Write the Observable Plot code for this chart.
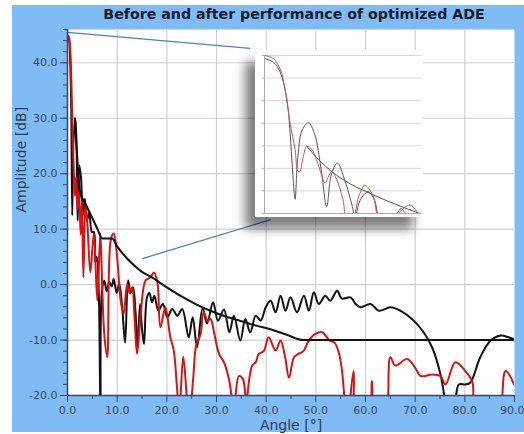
<!DOCTYPE html>
<html><head><meta charset="utf-8">
<script src="https://cdn.jsdelivr.net/npm/d3@7"></script>
<script src="https://cdn.jsdelivr.net/npm/@observablehq/plot@0.6"></script>
<style>
html,body{margin:0;padding:0;background:#fff;width:524px;height:434px;overflow:hidden;font-family:"DejaVu Sans",Verdana,sans-serif}
#bg{position:absolute;left:12px;top:5px;width:512px;height:427px;background:#7fbcf5}
#main{position:absolute;left:0;top:0}
#title{position:absolute;left:60px;width:468px;top:5px;text-align:center;font-weight:bold;font-size:14.2px;color:#1a1a2a;line-height:18px}
#inset{position:absolute;left:255px;top:50px;width:168px;height:167px;background:#fff;box-shadow:-10px 12px 10px rgba(0,0,0,0.5)}
#inset svg, #main svg{display:block}
</style></head>
<body>
<div id="bg"></div>
<div id="main"></div>
<div id="title">Before and after performance of optimized ADE</div>
<div id="inset"></div>
<script>
// ---- main chart data (angle in degrees, amplitude in dB) ----
const beforeAngle = [0,0.3,0.55,0.75,0.95,1.2,1.6,1.85,2.05,2.35,2.7,3.1,3.5,3.9,4.4,4.9,5.3,5.6,5.9,6.3,6.65,6.9,7.4,7.9,8.4,8.9,9.3,9.9,10.4,11.0,11.6,12.2,12.7,13.2,13.7,14.1,14.6,15.0,15.4,16.0,16.5,17.0,17.5,18.3,19.2,20.1,21.1,22.1,23.1,24.4,25.2,26.1,27.2,28.1,29.3,30.3,31.5,32.6,33.5,34.8,35.8,36.8,37.9,38.9,39.9,40.9,41.9,42.9,43.9,44.9,46.2,47.6,48.6,49.6,50.6,51.9,52.9,54.3,55.2,57.0,58.0,59.0,61.0,62.7,65.0,67.0,69.7,71.7,73.4,75.1,76.2,77.0,78.0,78.8,80.1,81.1,83.1,85.2,87.2,88.8,90.0];
const beforeDb = [44.8,44.2,40,32,12.5,26,29.8,24,11.5,21.5,19.5,12.5,15.5,11.5,13.0,9.5,9.5,4.0,5.0,-1.5,-25,-1.5,0.7,-1.2,0.5,-0.3,1.0,-1.5,0.2,-4,-10.5,0.8,-1.5,-0.5,-5,-11.5,-3.5,-8,-10.7,-2.3,-1.5,-3.2,-2.0,-4.7,-3.5,-5.9,-4.4,-5.6,-4.4,-9.5,-5.9,-11.3,-4.2,-7.0,-3.2,-6.5,-4.5,-8.6,-5.6,-10.1,-6.2,-8.6,-5.6,-6.5,-4.1,-2.9,-5.0,-2.0,-4.7,-2.3,-5.0,-2.0,-4.7,-1.4,-3.5,-2.0,-2.9,-1.1,-2.5,-2.3,-3.5,-4.1,-3.5,-4.7,-4.1,-4.7,-6.5,-8.6,-11.3,-16.2,-22,-26,-22,-18,-18,-17.7,-13.1,-10.1,-9.2,-9.5,-9.9];

const afterAngle = [0,0.3,0.6,0.85,1.05,1.25,1.5,1.75,2.0,2.3,2.65,2.9,3.2,3.6,4.0,4.6,5.3,6.0,6.6,7.0,7.4,8.0,8.7,9.3,10.0,10.7,11.3,12.0,12.5,13.0,13.5,14.0,14.7,15.7,16.7,17.4,18.1,18.7,19.7,20.7,21.4,22.0,22.5,23.3,24.0,24.5,25.3,25.9,26.8,27.4,28.2,28.8,29.5,30.5,31.5,32.5,33.5,34.5,35.3,36.0,36.6,37.2,37.9,38.5,39.5,40.5,41.9,42.9,43.8,44.6,45.6,46.5,47.5,48.6,49.9,51.3,52.2,52.9,53.8,54.6,55.2,55.7,56.3,57.6,58.3,60.5,61.3,62.0,63.8,65.0,66.0,68.4,70.0,71.1,73.4,75.1,76.1,78.1,80.1,81.5,82.3,86.4,88.2,89.9];
const afterDb = [45.0,44.6,41.5,34,27,21,16,19.5,13.5,17,9,15,1.3,14.6,11,2.2,9.2,-2.9,9.2,-0.5,-8.9,-13.1,8.0,9.2,4.9,-2.9,-5.3,0.1,-1.5,-0.5,-6,-12.5,-5.9,0.7,1.3,2.2,0.4,-7.7,-4.1,-9.5,-11.9,-18,-23,-13,-20,-25,-17,-11,-8.9,-5.0,-6.5,-6.2,-8.6,-12.5,-14,-17,-22,-16.5,-17,-21,-17,-14.6,-14,-12.5,-12,-9.5,-11.9,-10.1,-13,-16.8,-13.1,-12.5,-12,-10.1,-8.9,-8.6,-9.5,-10.1,-10.5,-12.2,-15,-19.7,-25,-15.6,-25,-25,-17.4,-25,-25,-13.1,-14.6,-13.4,-15,-16.5,-16.2,-16.5,-18,-14,-15.6,-17.5,-25,-25,-15.6,-18];

const maskAngle = [1.5,2.6,3.6,5.0,6.0,7.0,9.0,10.0,11.0,12.0,13.5,15.0,17.0,20.0,22.7,26.0,29.0,32.0,35.0,38.0,41.0,44.0,47.5,90.0];
const maskDb = [30,16.4,14.6,12.0,10.1,8.3,8.3,6.9,5.7,4.7,3.4,2.3,1.3,-0.5,-2.0,-3.6,-4.8,-5.8,-6.6,-7.4,-8.1,-9.0,-10.0,-10.0];

// zoom connector lines: [angle1, dB1, angle2, dB2]
const connectors = [[0, 45.5, 36.8, 42.6], [15.1, 4.7, 40.9, 11.7]];

const xMajor = [0,10,20,30,40,50,60,70,80,90];
const xMinor = [5,15,25,35,45,55,65,75,85];
const yMajor = [-20,-10,0,10,20,30,40];
const yMinor = d3.range(-20, 47, 2);

// ---- inset (zoomed view, relative units) ----
const insetAfterU = [0.04,0.57,1.0,1.31,1.63,1.95,2.12,2.25,2.45,2.69,3.0,3.4,3.86,4.05,4.28,4.6,5.0,5.25,5.6,6.0,6.4,6.9,7.3,7.6,8.3,8.6,9.26,9.7,10.0];
const insetAfterV = [7.0,6.86,6.4,5.5,4.0,2.83,1.9,1.85,2.45,2.98,2.85,2.2,1.34,1.6,1.86,1.5,0.6,-0.3,-0.3,0.75,1.24,0.8,-0.3,-0.3,-0.3,0.05,0.37,0.1,-0.3];
const insetBeforeU = [0.04,0.57,1.0,1.42,1.63,1.8,1.95,2.1,2.4,2.8,3.2,3.6,3.96,4.25,4.64,5.1,5.6,5.76,6.1,6.6,7.0,7.4,8.2,8.45,8.7,9.0,10.0];
const insetBeforeV = [6.86,6.7,6.26,5.07,3.58,1.79,0.63,2.3,3.7,4.02,3.5,2.0,0.3,1.7,2.24,1.5,0.3,-0.2,0.6,0.97,0.6,-0.3,-0.3,0.0,0.22,0.0,-0.3];
const insetMaskU = [2.69,3.5,4.28,5.5,6.72,8.3,9.9];
const insetMaskV = [2.98,2.35,1.86,1.3,0.89,0.42,0.0];

const before = beforeAngle.map((a,i)=>({a, v: beforeDb[i]}));
const after = afterAngle.map((a,i)=>({a, v: afterDb[i]}));
const mask = maskAngle.map((a,i)=>({a, v: maskDb[i]}));
const links = connectors.map(([x1,y1,x2,y2])=>({x1,y1,x2,y2}));

const axisColor = "#34466b";
const main = Plot.plot({
  width: 524, height: 434,
  marginLeft: 67, marginRight: 10, marginTop: 29, marginBottom: 39,
  x: {domain: [0, 90]},
  y: {domain: [-20, 46]},
  style: {background: "transparent", fontFamily: "DejaVu Sans, sans-serif", overflow: "visible"},
  marks: [
    Plot.frame({fill: "white", stroke: null}),
    Plot.gridX(xMajor.slice(1, -1), {stroke: "#cfcfcf", strokeOpacity: 1, strokeWidth: 1.2}),
    Plot.gridY(yMajor.slice(1), {stroke: "#cfcfcf", strokeOpacity: 1, strokeWidth: 1.2}),
    Plot.link(links, {x1: "x1", y1: "y1", x2: "x2", y2: "y2", stroke: "#4d7fc4", strokeWidth: 1.3}),
    Plot.line(before, {x: "a", y: "v", stroke: "#111", strokeWidth: 2, curve: "catmull-rom", clip: true}),
    Plot.line(after, {x: "a", y: "v", stroke: "#dd1111", strokeWidth: 2, curve: "catmull-rom", clip: true}),
    Plot.line(mask, {x: "a", y: "v", stroke: "#111", strokeWidth: 2, curve: "monotone-x", clip: true}),
    Plot.axisY(yMajor, {tickSize: 7, tickFormat: d => d.toFixed(1), fontSize: 11, color: axisColor, stroke: axisColor, tickPadding: 3, label: null}),
    Plot.axisY(yMinor, {tickSize: 4, tickFormat: () => "", stroke: axisColor, label: null}),
    Plot.axisX(xMajor, {tickSize: 7, tickFormat: d => d === 90 ? "" : d.toFixed(1), fontSize: 11, color: axisColor, stroke: axisColor, tickPadding: 4, label: null}),
    Plot.axisX([90], {tickSize: 7, tickFormat: d => d.toFixed(1), fontSize: 11, color: axisColor, stroke: axisColor, tickPadding: 4, label: null, textAnchor: "end", dx: 10}),
    Plot.axisX(xMinor, {tickSize: 4, tickFormat: () => "", stroke: axisColor, label: null}),
    Plot.ruleX([0], {stroke: axisColor, strokeWidth: 1.5}),
    Plot.ruleY([-20], {stroke: axisColor, strokeWidth: 1.5}),
    Plot.text(["Angle [°]"], {frameAnchor: "bottom", dy: 30, fontSize: 14, fill: "#2a3a5a", lineAnchor: "middle"}),
    Plot.text(["Amplitude [dB]"], {frameAnchor: "left", dx: -46, rotate: -90, fontSize: 14, fill: "#2a3a5a", lineAnchor: "middle"})
  ]
});
document.getElementById("main").appendChild(main);

const ib = insetBeforeU.map((u,i)=>({u, v: insetBeforeV[i]}));
const ia = insetAfterU.map((u,i)=>({u, v: insetAfterV[i]}));
const im = insetMaskU.map((u,i)=>({u, v: insetMaskV[i]}));
const inset = Plot.plot({
  width: 168, height: 167,
  marginLeft: 9, marginRight: 2, marginTop: 5, marginBottom: 4,
  x: {domain: [0, 10], axis: null},
  y: {domain: [0, 7], axis: null},
  style: {background: "white", overflow: "visible"},
  marks: [
    Plot.gridY([1,2,3,4,5,6,7], {stroke: "#d6d6d6", strokeOpacity: 1}),
    Plot.line(ib, {x: "u", y: "v", stroke: "#555", strokeWidth: 1, curve: "catmull-rom", clip: true}),
    Plot.line(ia, {x: "u", y: "v", stroke: "#d65050", strokeWidth: 1, curve: "catmull-rom", clip: true}),
    Plot.line(im, {x: "u", y: "v", stroke: "#555", strokeWidth: 1, curve: "monotone-x", clip: true}),
    Plot.axisY([0,1,2,3,4,5,6,7], {tickSize: 2, tickFormat: () => "", stroke: "#aaa", label: null}),
    Plot.ruleX([0], {stroke: "#aaa"}),
    Plot.ruleY([0], {stroke: "#aaa"})
  ]
});
document.getElementById("inset").appendChild(inset);
</script>
</body></html>
